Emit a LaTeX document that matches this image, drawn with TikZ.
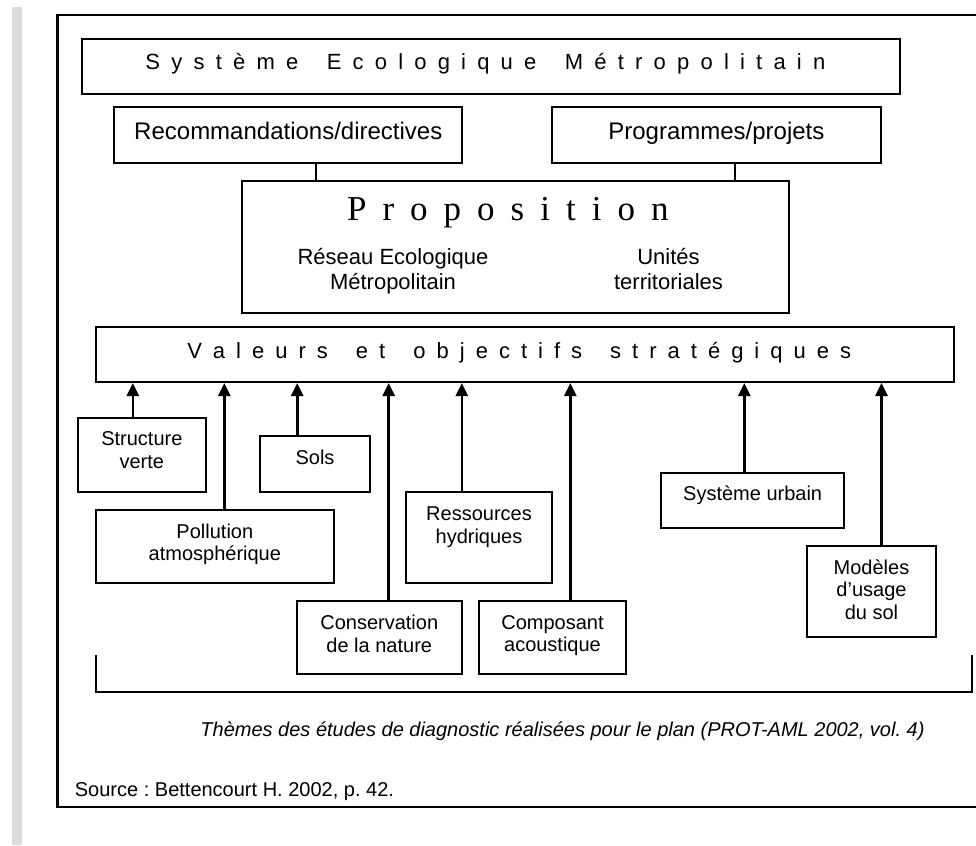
\documentclass[tikz,border=0pt]{standalone}
\usepackage{fontspec}
\setmainfont{Liberation Sans}
\newfontfamily\propfont{Liberation Serif}
\usetikzlibrary{arrows.meta}
\makeatletter
\newcommand\spreadout[2]{\def\sp@g{#1}\@tfor\sp@c:=#2\do{\sp@c\hspace*{\sp@g}}}
\makeatother
\definecolor{stripgray}{RGB}{220,220,223}
\begin{document}
\begin{tikzpicture}[x=1pt,y=-1pt,
  box/.style={draw=black, line width=2pt, inner sep=0pt},
  txt/.style={inner sep=0pt, anchor=north, align=center, font=\fontsize{20}{22.5}\selectfont},
  arr/.style={line width=2.6pt, -{Triangle[width=12pt,length=13pt]}},
  link/.style={line width=1.8pt},
]
\useasboundingbox (0,0) rectangle (976,845);
\fill[stripgray] (11.7,7) rectangle (21.7,845);
\draw[line width=2.6pt] (980,15) -- (57.7,15) -- (57.7,807) -- (980,807);

% top boxes
\node[box, minimum width=817.4pt, minimum height=55pt] (sys) at (491,66.8) {};
\node[inner sep=0pt, anchor=base, font=\fontsize{22}{26}\selectfont] (syst) at (491,70)
  {\spreadout{11.2pt}{Système~Ecologique~Métropolitain}};

\node[box, minimum width=348pt, minimum height=56pt] (rec) at (288.3,135.3) {};
\node[inner sep=0pt, anchor=base, font=\fontsize{24}{28}\selectfont] (rect) at (288.3,139.3) {Recommandations/directives};
\node[box, minimum width=329.3pt, minimum height=56pt] (prog) at (716.35,135.3) {};
\node[inner sep=0pt, anchor=base, font=\fontsize{24}{28}\selectfont] (progt) at (716.35,139.3) {Programmes/projets};

\node[box, minimum width=547pt, minimum height=132.3pt] (prop) at (515.8,247.15) {};
\node[inner sep=0pt, anchor=base, font=\propfont\fontsize{35}{40}\selectfont] (propt) at (515.8,220)
  {\spreadout{16pt}{Proposition}};
\node[txt, font=\fontsize{22}{25}\selectfont] (reseau) at (393,248.5) {Réseau Ecologique\\Métropolitain};
\node[txt, font=\fontsize{22}{25}\selectfont] (unites) at (668.5,248.5) {Unités\\territoriales};

\draw[link] ([xshift=27.4pt]rec.south) -- ([xshift=27.4pt]rec.south |- prop.north);
\draw[link] ([xshift=18.65pt]prog.south) -- ([xshift=18.65pt]prog.south |- prop.north);

% values
\node[box, minimum width=858pt, minimum height=55pt] (val) at (524.7,354.5) {};
\node[inner sep=0pt, anchor=base, font=\fontsize{22}{26}\selectfont] (valt) at (524.7,358.3)
  {\spreadout{11pt}{Valeurs~et~objectifs~stratégiques}};

% theme boxes
\node[box, minimum width=128.3pt, minimum height=73.4pt] (sv) at (141.85,455) {};
\node[txt] (svt) at (141.85,431.8) {Structure\\verte};
\node[box, minimum width=110pt, minimum height=55.4pt] (sols) at (315,464) {};
\node[txt] (solst) at (315,449.8) {Sols};
\node[box, minimum width=238.3pt, minimum height=72.7pt] (poll) at (214.85,546.35) {};
\node[txt] (pollt) at (214.85,523.5) {Pollution\\atmosphérique};
\node[box, minimum width=146pt, minimum height=91pt] (res) at (479,537.2) {};
\node[txt] (rest) at (479,506.7) {Ressources\\hydriques};
\node[box, minimum width=165.1pt, minimum height=73pt] (cons) at (379.25,637.5) {};
\node[txt] (const) at (379.25,615) {Conservation\\de la nature};
\node[box, minimum width=147pt, minimum height=73pt] (comp) at (552.5,637.5) {};
\node[txt] (compt) at (552.5,615) {Composant\\acoustique};
\node[box, minimum width=183.3pt, minimum height=55.6pt] (urb) at (752.65,500.5) {};
\node[txt] (urbt) at (752.65,486) {Système urbain};
\node[box, minimum width=128.4pt, minimum height=91.3pt] (mod) at (871.5,591.65) {};
\node[txt] (modt) at (871.5,559.5) {Modèles\\d’usage\\du sol};

% arrows
\draw[arr] ([xshift=-9.05pt]sv.north) -- ([xshift=-9.05pt]sv.north |- val.south);
\draw[arr] ([xshift=9.45pt]poll.north) -- ([xshift=9.45pt]poll.north |- val.south);
\draw[arr] ([xshift=-17.8pt]sols.north) -- ([xshift=-17.8pt]sols.north |- val.south);
\draw[arr] ([xshift=9.45pt]cons.north) -- ([xshift=9.45pt]cons.north |- val.south);
\draw[arr] ([xshift=-17.2pt]res.north) -- ([xshift=-17.2pt]res.north |- val.south);
\draw[arr] ([xshift=17.8pt]comp.north) -- ([xshift=17.8pt]comp.north |- val.south);
\draw[arr] ([xshift=-8.35pt]urb.north) -- ([xshift=-8.35pt]urb.north |- val.south);
\draw[arr] ([xshift=10pt]mod.north) -- ([xshift=10pt]mod.north |- val.south);

% bracket
\coordinate (bl) at (95.7,655);
\coordinate (br) at (972,655);
\draw[line width=2pt] (bl) -- ++(0,37) -| (br);

% captions
\node[inner sep=0pt, anchor=base, font=\itshape\frenchspacing\fontsize{20}{24}\selectfont] (cap) at (562.5,736.7)
  {Thèmes des études de diagnostic réalisées pour le plan (PROT-AML 2002, vol. 4)};
\node[inner sep=0pt, anchor=base west, font=\frenchspacing\fontsize{20}{24}\selectfont] (src) at (74.7,796.7)
  {Source : Bettencourt H. 2002, p. 42.};
\end{tikzpicture}
\end{document}
